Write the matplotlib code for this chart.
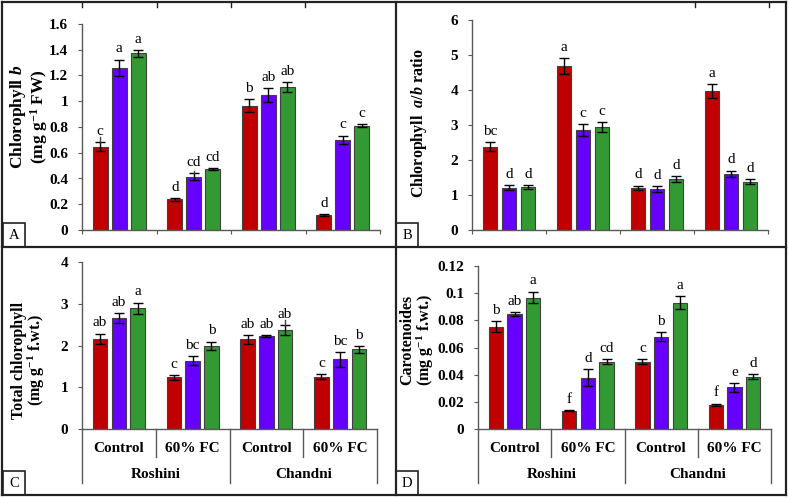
import numpy as np
import matplotlib
matplotlib.use("Agg")
import matplotlib.pyplot as plt
from matplotlib.lines import Line2D
from matplotlib.patches import Rectangle

plt.rcParams['font.family'] = ['Liberation Serif', 'DejaVu Serif']
plt.rcParams['mathtext.fontset'] = 'custom'
plt.rcParams['mathtext.rm'] = 'Liberation Serif:bold'
plt.rcParams['mathtext.it'] = 'Liberation Serif:italic:bold'
plt.rcParams['mathtext.bf'] = 'Liberation Serif:bold'

# ---- data (group order: Roshini Control, Roshini 60% FC, Chandni Control, Chandni 60% FC)
treatments = ["Control", "60% FC", "Control", "60% FC"]
cultivars = ["Roshini", "Chandni"]
series_colors = ["#C00000", "#6600FF", "#339933"]

chl_b = [[0.647, 1.261, 1.372], [0.238, 0.414, 0.474],
         [0.966, 1.046, 1.113], [0.117, 0.699, 0.810]]
chl_b_err = [[0.035, 0.062, 0.028], [0.013, 0.026, 0.009],
             [0.052, 0.054, 0.039], [0.005, 0.034, 0.013]]
chl_b_let = [["c", "a", "a"], ["d", "cd", "cd"], ["b", "ab", "ab"], ["d", "c", "c"]]
# whiskers that poke above their caps (group, series, top value)
chl_b_ext = [(0, 0, 0.725), (1, 1, 0.458)]

ab_ratio = [[2.38, 1.21, 1.22], [4.686, 2.857, 2.943],
            [1.21, 1.18, 1.457], [3.97, 1.61, 1.38]]
ab_ratio_err = [[0.124, 0.08, 0.057], [0.224, 0.162, 0.152],
                [0.057, 0.086, 0.081], [0.2, 0.086, 0.067]]
ab_ratio_let = [["bc", "d", "d"], ["a", "c", "c"], ["d", "d", "d"], ["a", "d", "d"]]

total_chl = [[2.163, 2.656, 2.887], [1.24, 1.638, 1.988],
             [2.147, 2.227, 2.37], [1.256, 1.67, 1.908]]
total_chl_err = [[0.123, 0.111, 0.139], [0.056, 0.115, 0.107],
                 [0.103, 0.024, 0.119], [0.056, 0.179, 0.087]]
total_chl_let = [["ab", "ab", "a"], ["c", "bc", "b"], ["ab", "ab", "ab"], ["c", "bc", "b"]]
total_chl_ext = [(2, 2, 2.62)]

carot = [[0.0753, 0.0846, 0.0968], [0.0134, 0.0379, 0.0496],
         [0.0496, 0.068, 0.0929], [0.0178, 0.0306, 0.0386]]
carot_err = [[0.0042, 0.0015, 0.0044], [0.0003, 0.0065, 0.0018],
             [0.002, 0.0034, 0.0049], [0.0009, 0.0034, 0.0017]]
carot_let = [["b", "ab", "a"], ["f", "d", "cd"], ["c", "b", "a"], ["f", "e", "d"]]

W, H = 789, 498
fig = plt.figure(figsize=(W / 100, H / 100), dpi=100)
AX_COL = "#595959"
OFFS = [-0.255, 0.0, 0.255]


def add_ax(x0, y0, x1, y1):
    return fig.add_axes([x0 / W, 1 - y1 / H, (x1 - x0) / W, (y1 - y0) / H])


def draw_panel(ax, vals, errs, lets, ymax, ystep, ext=()):
    vals = np.asarray(vals)
    errs = np.asarray(errs)
    for s in range(3):
        x = np.arange(4) + 0.5 + OFFS[s]
        ax.bar(x, vals[:, s], width=0.195, color=series_colors[s],
               edgecolor="#404040", linewidth=0.8, zorder=2)
        ax.errorbar(x, vals[:, s], yerr=errs[:, s], fmt="none", ecolor="black",
                    elinewidth=1, capsize=3.5, capthick=1, zorder=3)
        for g in range(4):
            ax.annotate(lets[g][s], (x[g], vals[g, s] + errs[g, s]),
                        xytext=(0, 3), textcoords="offset points",
                        ha="center", va="bottom", fontsize=11)
    for g, s, top in ext:
        xx = g + 0.5 + OFFS[s]
        ax.plot([xx, xx], [vals[g, s] + errs[g, s], top], color="#444444",
                lw=1, zorder=3)
    ax.set_xlim(0, 4)
    ax.set_ylim(0, ymax)
    yt = np.round(np.arange(0, ymax + ystep / 2, ystep), 4)
    ax.set_yticks(yt)
    ax.set_yticklabels([f"{v:g}" for v in yt], fontweight="bold", fontsize=11)
    ax.spines["top"].set_visible(False)
    ax.spines["right"].set_visible(False)
    for sp in ("left", "bottom"):
        ax.spines[sp].set_color(AX_COL)
        ax.spines[sp].set_linewidth(1)
    ax.tick_params(axis="y", direction="out", length=3, color=AX_COL, pad=7)
    ax.set_xticks(range(5))
    ax.set_xticklabels([])
    ax.tick_params(axis="x", direction="out", length=3, color=AX_COL)


def category_axis(ax, y0px, y1px):
    # two-level category labels under the bars
    ax.tick_params(axis="x", length=0)
    hpx = y1px - y0px
    tr = ax.get_xaxis_transform()
    for xb in range(5):
        depth = 54 if xb % 2 == 0 else 28
        ax.add_line(Line2D([xb, xb], [0, -depth / hpx], transform=tr,
                           color=AX_COL, lw=1, clip_on=False))
    for g, t in enumerate(treatments):
        ax.text(g + 0.5, -19 / hpx, t, transform=tr, ha="center", va="center",
                fontweight="bold", fontsize=11)
    for c, name in enumerate(cultivars):
        ax.text(2 * c + 1, -45 / hpx, name, transform=tr, ha="center",
                va="center", fontweight="bold", fontsize=11)


def fig_text(xpx, ypx, s, size=12, ls=0.95):
    fig.text(xpx / W, 1 - ypx / H, s, rotation=90, ha="center", va="center",
             multialignment="center", fontweight="bold", fontsize=size,
             linespacing=ls)


axA = add_ax(82, 24, 380, 230)
draw_panel(axA, chl_b, chl_b_err, chl_b_let, 1.6, 0.2, chl_b_ext)
axB = add_ax(472, 20, 768, 230)
draw_panel(axB, ab_ratio, ab_ratio_err, ab_ratio_let, 6, 1)
axC = add_ax(82, 262, 377, 429)
draw_panel(axC, total_chl, total_chl_err, total_chl_let, 4, 1, total_chl_ext)
category_axis(axC, 262, 429)
axD = add_ax(478, 266, 771, 429)
draw_panel(axD, carot, carot_err, carot_let, 0.12, 0.02)
category_axis(axD, 266, 429)

# y labels
fig_text(29, 117, "Chlorophyll $\\mathit{b}$\n(mg g$^{-1}$ FW)", size=12.5)
fig_text(419, 123, r"Chlorophyll  $\mathit{a/b}$ ratio", size=11.5)
fig_text(29, 360, "Total chlorophyll\n(mg g$^{-1}$ f.wt.)", size=11.5)
fig_text(418, 340, "Carotenoides\n(mg g$^{-1}$ f.wt.)", size=11.5)


# panel frames
def fig_line(x0, y0, x1, y1, lw=1.6):
    fig.add_artist(Line2D([x0 / W, x1 / W], [1 - y0 / H, 1 - y1 / H],
                          color="#222222", lw=lw))


fig_line(2, 2, 786, 2)
fig_line(2, 495, 786, 495)
fig_line(2, 2, 2, 495)
fig_line(786, 2, 786, 495)
fig_line(2, 247.5, 786, 247.5)
fig_line(395.5, 2, 395.5, 495)

# cropped tick marks along the top edge
for x in (82, 157, 231, 305, 695, 769):
    fig_line(x, 2, x, 7, lw=1)

# panel letter boxes
for lab, (x0, y0) in zip("ABCD", [(3, 223), (396, 223), (3, 471), (396, 471)]):
    fig.add_artist(Rectangle((x0 / W, 1 - (y0 + 24) / H), 22 / W, 24 / H,
                             fill=False, edgecolor="#222222", lw=1.2))
    fig.text((x0 + 11) / W, 1 - (y0 + 12.5) / H, lab, ha="center", va="center",
             fontsize=10.5)

fig.savefig("out.png", dpi=100)
